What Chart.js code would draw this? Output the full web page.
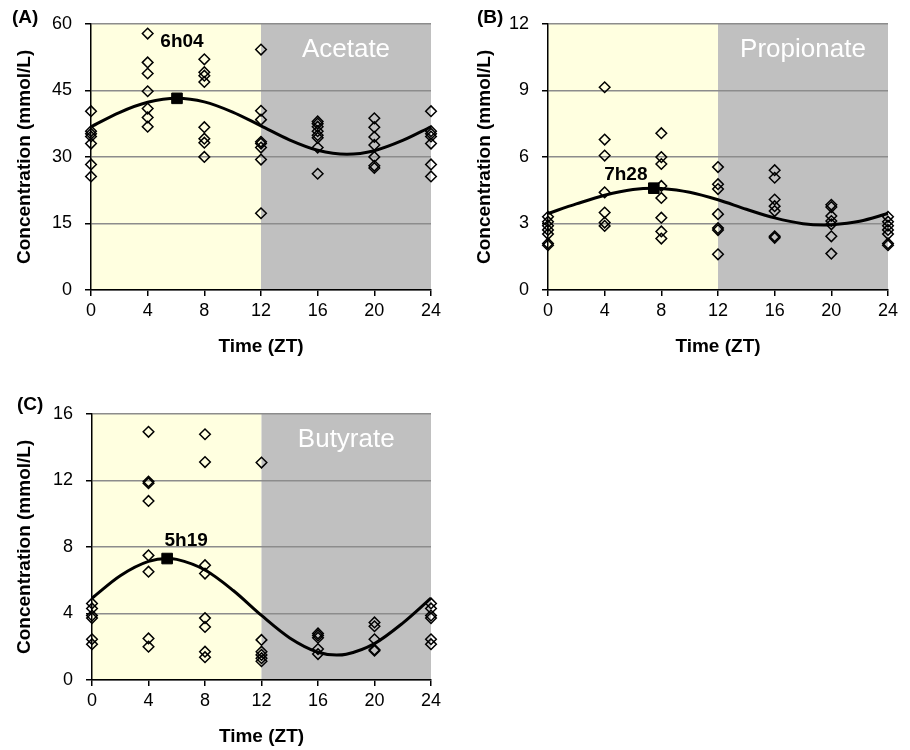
<!DOCTYPE html>
<html>
<head>
<meta charset="utf-8">
<script src="https://cdn.jsdelivr.net/npm/chart.js@4"></script>
<style>
  html, body { margin: 0; padding: 0; background: #fff; overflow: hidden; width: 910px; height: 750px; }
  canvas { position: absolute; }
</style>
</head>
<body>
<canvas id="chartA" width="455" height="370" style="left:0;top:0"></canvas>
<canvas id="chartB" width="450" height="370" style="left:460px;top:0"></canvas>
<canvas id="chartC" width="455" height="370" style="left:0;top:390px"></canvas>
<script>
// sampling times (ZT)
var times = [0, 4, 8, 12, 16, 20, 24];

// measured concentrations per time point (mmol/L)
var acetate = [
  [40.3, 35.8, 35.2, 34.6, 33.0, 28.3, 25.6],
  [57.8, 51.3, 48.8, 44.8, 40.9, 38.9, 36.8],
  [52.0, 49.1, 48.3, 46.9, 36.7, 34.1, 33.2, 30.0],
  [54.2, 40.4, 38.4, 33.4, 33.0, 32.1, 29.4, 17.3],
  [38.0, 37.5, 36.8, 35.8, 34.9, 34.3, 32.1, 26.2],
  [38.7, 36.7, 34.5, 32.7, 30.0, 28.0, 27.5],
  [40.3, 35.8, 35.2, 34.6, 33.0, 28.3, 25.6]
];
var propionate = [
  [3.30, 3.08, 2.90, 2.71, 2.52, 2.10, 2.02],
  [9.14, 6.78, 6.06, 4.40, 3.49, 3.04, 2.89],
  [7.07, 5.99, 5.68, 4.69, 4.15, 3.26, 2.64, 2.32],
  [5.54, 4.77, 4.55, 3.42, 2.79, 2.70, 1.61],
  [5.40, 5.06, 4.08, 3.78, 3.56, 2.42, 2.35],
  [3.84, 3.74, 3.34, 3.11, 2.96, 2.42, 1.64],
  [3.30, 3.08, 2.90, 2.71, 2.52, 2.10, 2.02]
];
var butyrate = [
  [4.60, 4.30, 3.87, 3.72, 2.45, 2.15],
  [14.92, 11.93, 11.83, 10.76, 7.49, 6.51, 2.50, 2.00],
  [14.77, 13.10, 6.90, 6.40, 3.72, 3.19, 1.70, 1.37],
  [13.07, 2.41, 1.70, 1.51, 1.31, 1.13],
  [2.80, 2.68, 2.54, 1.86, 1.56],
  [3.46, 3.23, 2.45, 1.82, 1.76],
  [4.60, 4.30, 3.87, 3.72, 2.45, 2.15]
];

// fitted curves
var acetateFitX = [0, 2, 4, 6.07, 8, 10, 12, 14, 16, 18.07, 20, 22, 24];
var acetateFitY = [36.8, 40.0, 42.3, 43.2, 42.4, 40.1, 37.0, 33.85, 31.5, 30.6, 31.4, 33.7, 36.8];
var propionateFitX = [0, 2, 4, 6, 7.47, 8, 10, 12, 14, 16, 18, 19.47, 20, 22, 24];
var propionateFitY = [3.45, 3.88, 4.27, 4.53, 4.59, 4.58, 4.41, 4.07, 3.64, 3.25, 2.99, 2.93, 2.94, 3.10, 3.45];
var butyrateFitX = [0, 2, 4, 5.32, 6, 8, 10, 12, 14, 16, 17.32, 18, 20, 22, 24];
var butyrateFitY = [4.92, 6.27, 7.13, 7.30, 7.25, 6.61, 5.38, 3.88, 2.53, 1.67, 1.50, 1.55, 2.19, 3.42, 4.92];

// acrophase
var peakTimes = [6.07, 7.47, 5.32];
var peakValues = [43.2, 4.59, 7.30];
var peakLabels = ['6h04', '7h28', '5h19'];

// axis ticks
var xTicks = [0, 4, 8, 12, 16, 20, 24];
var yMax = [60, 12, 16];
var yStep = [15, 3, 4];

Chart.defaults.font.family = '"Liberation Sans", Arial, sans-serif';
Chart.defaults.color = '#000';

var panelPlugin = {
  id: 'panel',
  beforeDraw: function(chart, args, opts) {
    var a = chart.chartArea, ctx = chart.ctx;
    var mid = chart.scales.x.getPixelForValue(12);
    ctx.save();
    ctx.fillStyle = '#FFFFE0';
    ctx.fillRect(a.left, a.top, mid - a.left, a.bottom - a.top);
    ctx.fillStyle = '#C0C0C0';
    ctx.fillRect(mid, a.top, a.right - mid, a.bottom - a.top);
    ctx.restore();
  },
  afterDraw: function(chart, args, opts) {
    var a = chart.chartArea, ctx = chart.ctx;
    var mid = chart.scales.x.getPixelForValue(12);
    ctx.save();
    ctx.textBaseline = 'middle';
    // compound name in the dark half
    ctx.fillStyle = '#fff';
    ctx.textAlign = 'center';
    ctx.font = '26px "Liberation Sans", Arial, sans-serif';
    ctx.fillText(opts.name, (mid + a.right) / 2, a.top + 26);
    // panel letter
    ctx.fillStyle = '#000';
    ctx.textAlign = 'left';
    ctx.font = 'bold 19px "Liberation Sans", Arial, sans-serif';
    ctx.fillText(opts.letter, opts.letterX, opts.letterY);
    // acrophase label
    ctx.textAlign = 'center';
    var px = chart.scales.x.getPixelForValue(opts.peakX) + opts.dx;
    var py = chart.scales.y.getPixelForValue(opts.peakY) + opts.dy;
    ctx.fillText(opts.peakText, px, py);
    ctx.restore();
  }
};

function makePanel(id, i, values, fitX, fitY, cfg) {
  var points = [];
  times.forEach(function(t, k) {
    values[k].forEach(function(v) { points.push({x: t, y: v}); });
  });
  var fit = fitX.map(function(x, k) { return {x: x, y: fitY[k]}; });

  new Chart(document.getElementById(id), {
    type: 'scatter',
    data: {
      datasets: [
        {
          data: fit,
          showLine: true,
          borderColor: '#000',
          borderWidth: 3,
          pointRadius: 0,
          cubicInterpolationMode: 'monotone',
          clip: false
        },
        {
          data: points,
          pointStyle: 'rectRot',
          pointRadius: 5.3,
          pointBorderWidth: 1.5,
          borderColor: '#000',
          backgroundColor: 'rgba(0,0,0,0)',
          clip: false
        },
        {
          data: [{x: peakTimes[i], y: peakValues[i]}],
          pointStyle: 'rect',
          pointRadius: 7.5,
          borderColor: '#000',
          backgroundColor: '#000',
          clip: false
        }
      ]
    },
    options: {
      responsive: false,
      animation: false,
      devicePixelRatio: 1,
      layout: { padding: { left: 0, top: cfg.top, right: cfg.right, bottom: 0 } },
      plugins: {
        legend: { display: false },
        tooltip: { enabled: false },
        panel: {
          name: cfg.name, letter: cfg.letter, letterX: cfg.letterX, letterY: cfg.letterY,
          peakX: peakTimes[i], peakY: peakValues[i], peakText: peakLabels[i],
          dx: cfg.dx, dy: cfg.dy
        }
      },
      scales: {
        x: {
          type: 'linear',
          min: 0, max: 24,
          afterBuildTicks: function(s) { s.ticks = xTicks.map(function(v) { return {value: v}; }); },
          afterFit: function(s) { s.height = 80; },
          ticks: { font: { size: 18 }, padding: 4, maxRotation: 0, color: '#000' },
          grid: { drawOnChartArea: false, tickLength: 6, color: '#000', tickColor: '#000', lineWidth: 1.5 },
          border: { color: '#000', width: 1.5 },
          title: { display: true, text: 'Time (ZT)', font: { size: 19, weight: 'bold' }, padding: { top: 12, bottom: 12 } }
        },
        y: {
          min: 0, max: yMax[i],
          ticks: { stepSize: yStep[i], font: { size: 18 }, padding: 13, color: '#000' },
          afterFit: function(s) { s.width = cfg.yWidth; },
          grid: { color: '#8c8c8c', tickColor: '#000', tickLength: 6, lineWidth: 1.5 },
          border: { color: '#000', width: 1.5 },
          title: { display: true, text: 'Concentration (mmol/L)', font: { size: 19, weight: 'bold' }, padding: { top: 13, bottom: 13 } }
        }
      }
    },
    plugins: [panelPlugin]
  });
}

makePanel('chartA', 0, acetate, acetateFitX, acetateFitY,
  { name: 'Acetate', letter: '(A)', letterX: 12, letterY: 18, top: 19, right: 24, yWidth: 91, dx: 5, dy: -57 });
makePanel('chartB', 1, propionate, propionateFitX, propionateFitY,
  { name: 'Propionate', letter: '(B)', letterX: 17, letterY: 18, top: 17, right: 22, yWidth: 88, dx: -28, dy: -13 });
makePanel('chartC', 2, butyrate, butyrateFitX, butyrateFitY,
  { name: 'Butyrate', letter: '(C)', letterX: 17, letterY: 15, top: 17, right: 24, yWidth: 92, dx: 19, dy: -18 });
</script>
</body>
</html>
